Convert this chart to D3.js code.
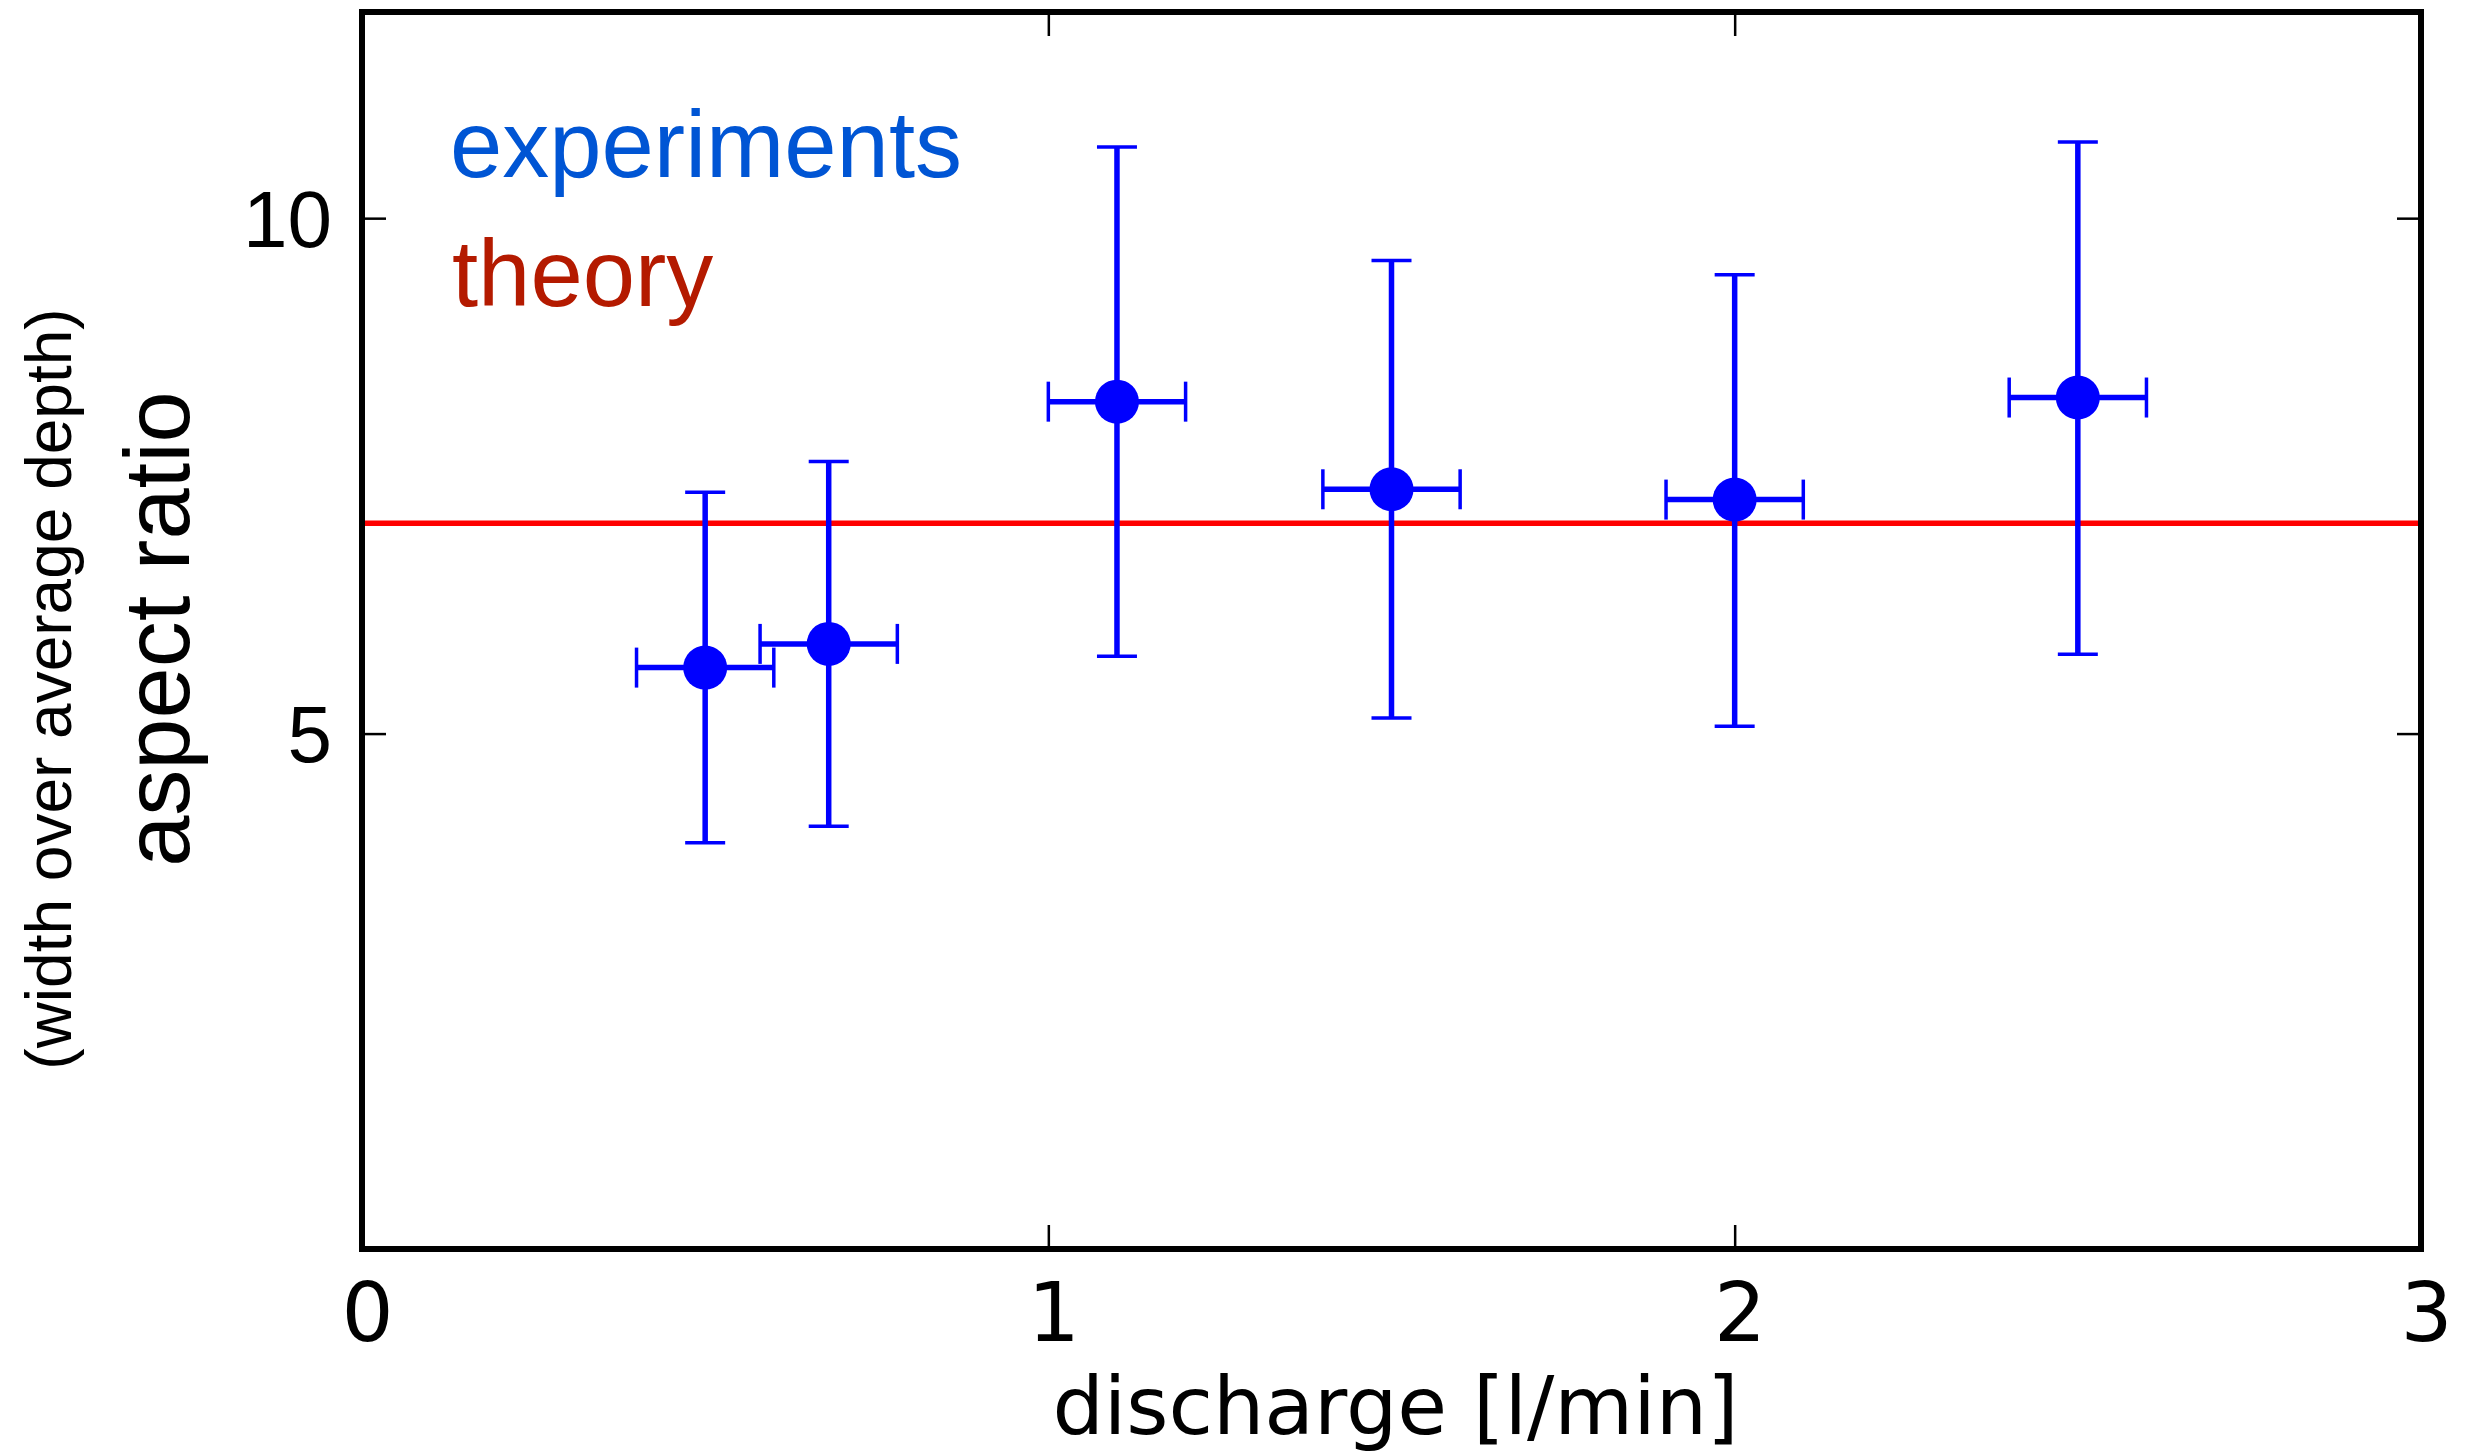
<!DOCTYPE html>
<html>
<head>
<meta charset="utf-8">
<script src="https://cdn.jsdelivr.net/npm/d3@7"></script>
<style>
  html, body { margin: 0; padding: 0; background: #fff; }
  svg { display: block; }
  .tick line { stroke: #000; stroke-width: 2.5; }
</style>
</head>
<body>
<svg id="chart" width="2479" height="1455"></svg>
<script>
// discharge [l/min] and measured aspect ratio
const discharge = [0.5, 0.68, 1.1, 1.5, 2.0, 2.5];
const dischargeErr = [0.1, 0.1, 0.1, 0.1, 0.1, 0.1];
const ratio = [5.64, 5.87, 8.22, 7.37, 7.27, 8.26];
const ratioHigh = [7.34, 7.64, 10.69, 9.59, 9.45, 10.74];
const ratioLow = [3.94, 4.10, 5.75, 5.15, 5.07, 5.77];
const theory = 7.04;
const xTicks = [0, 1, 2, 3];
const yTicks = [5, 10];

const svg = d3.select("#chart");
const plotLeft = 362, plotRight = 2421, plotTop = 12, plotBottom = 1249;

const x = d3.scaleLinear().domain([0, 3]).range([plotLeft, plotRight]);
const y = d3.scaleLinear().domain([0, 12]).range([plotBottom, plotTop]);

const points = discharge.map((d, i) => ({
  x: d, xe: dischargeErr[i], y: ratio[i], hi: ratioHigh[i], lo: ratioLow[i]
}));

// axes, ticks pointing inward on all four sides
const gx = svg.append("g").attr("transform", `translate(0,${plotBottom})`)
  .call(d3.axisBottom(x).tickValues(xTicks).tickSize(-24).tickFormat(d3.format("d")));
gx.selectAll("text").attr("x", 5).attr("y", 34).attr("dy", "0.71em")
  .style("font-family", "'DejaVu Sans'").style("font-size", "82px").attr("fill", "#000");

svg.append("g").attr("transform", `translate(0,${plotTop})`)
  .call(d3.axisTop(x).tickValues(xTicks).tickSize(-24).tickFormat(""));

const gy = svg.append("g").attr("transform", `translate(${plotLeft},0)`)
  .call(d3.axisLeft(y).tickValues(yTicks).tickSize(-24).tickFormat(d3.format("d")));
gy.selectAll("text").attr("x", -30).attr("dy", "0.35em")
  .style("font-family", "'Liberation Sans'").style("font-size", "80px").attr("fill", "#000");

svg.append("g").attr("transform", `translate(${plotRight},0)`)
  .call(d3.axisRight(y).tickValues(yTicks).tickSize(-24).tickFormat(""));

svg.selectAll(".domain").remove();

// theory line
svg.append("line")
  .attr("x1", x(0)).attr("x2", x(3))
  .attr("y1", y(theory)).attr("y2", y(theory))
  .attr("stroke", "#ff0000").attr("stroke-width", 5.5);

// error bars
const eb = svg.append("g").attr("stroke", "#0000ff");
const cap = 20;
eb.append("g").selectAll("line").data(points).join("line")
  .attr("x1", d => x(d.x)).attr("x2", d => x(d.x))
  .attr("y1", d => y(d.hi)).attr("y2", d => y(d.lo))
  .attr("stroke-width", 5.5);
eb.append("g").selectAll("line").data(points).join("line")
  .attr("x1", d => x(d.x - d.xe)).attr("x2", d => x(d.x + d.xe))
  .attr("y1", d => y(d.y)).attr("y2", d => y(d.y))
  .attr("stroke-width", 5.5);
["hi", "lo"].forEach(k => {
  eb.append("g").selectAll("line").data(points).join("line")
    .attr("x1", d => x(d.x) - cap).attr("x2", d => x(d.x) + cap)
    .attr("y1", d => y(d[k])).attr("y2", d => y(d[k]))
    .attr("stroke-width", 3.5);
});
[-1, 1].forEach(s => {
  eb.append("g").selectAll("line").data(points).join("line")
    .attr("x1", d => x(d.x + s * d.xe)).attr("x2", d => x(d.x + s * d.xe))
    .attr("y1", d => y(d.y) - cap).attr("y2", d => y(d.y) + cap)
    .attr("stroke-width", 3.5);
});

svg.append("g").selectAll("circle").data(points).join("circle")
  .attr("cx", d => x(d.x)).attr("cy", d => y(d.y)).attr("r", 22)
  .attr("fill", "#0000ff");

// frame
svg.append("rect")
  .attr("x", plotLeft).attr("y", plotTop)
  .attr("width", plotRight - plotLeft).attr("height", plotBottom - plotTop)
  .attr("fill", "none").attr("stroke", "#000").attr("stroke-width", 6);

// legend text
svg.append("text").attr("x", 450).attr("y", 177).text("experiments")
  .style("font-family", "'Liberation Sans'").style("font-size", "94px").attr("fill", "#0055d4");
svg.append("text").attr("x", 452).attr("y", 306).text("theory")
  .style("font-family", "'Liberation Sans'").style("font-size", "94px").attr("fill", "#b41a00");

// axis labels
svg.append("text").attr("x", (plotLeft + plotRight) / 2 + 4).attr("y", 1434)
  .attr("text-anchor", "middle").text("discharge [l/min]")
  .style("font-family", "'DejaVu Sans'").style("font-size", "81px").attr("fill", "#000");

svg.append("text").attr("transform", "translate(189,629) rotate(-90)")
  .attr("text-anchor", "middle").text("aspect ratio")
  .style("font-family", "'Liberation Sans'").style("font-size", "92px").attr("fill", "#000");

svg.append("text").attr("transform", "translate(71,689) rotate(-90)")
  .attr("text-anchor", "middle").text("(width over average depth)")
  .style("font-family", "'Liberation Sans'").style("font-size", "64px").attr("fill", "#000");
</script>
</body>
</html>
